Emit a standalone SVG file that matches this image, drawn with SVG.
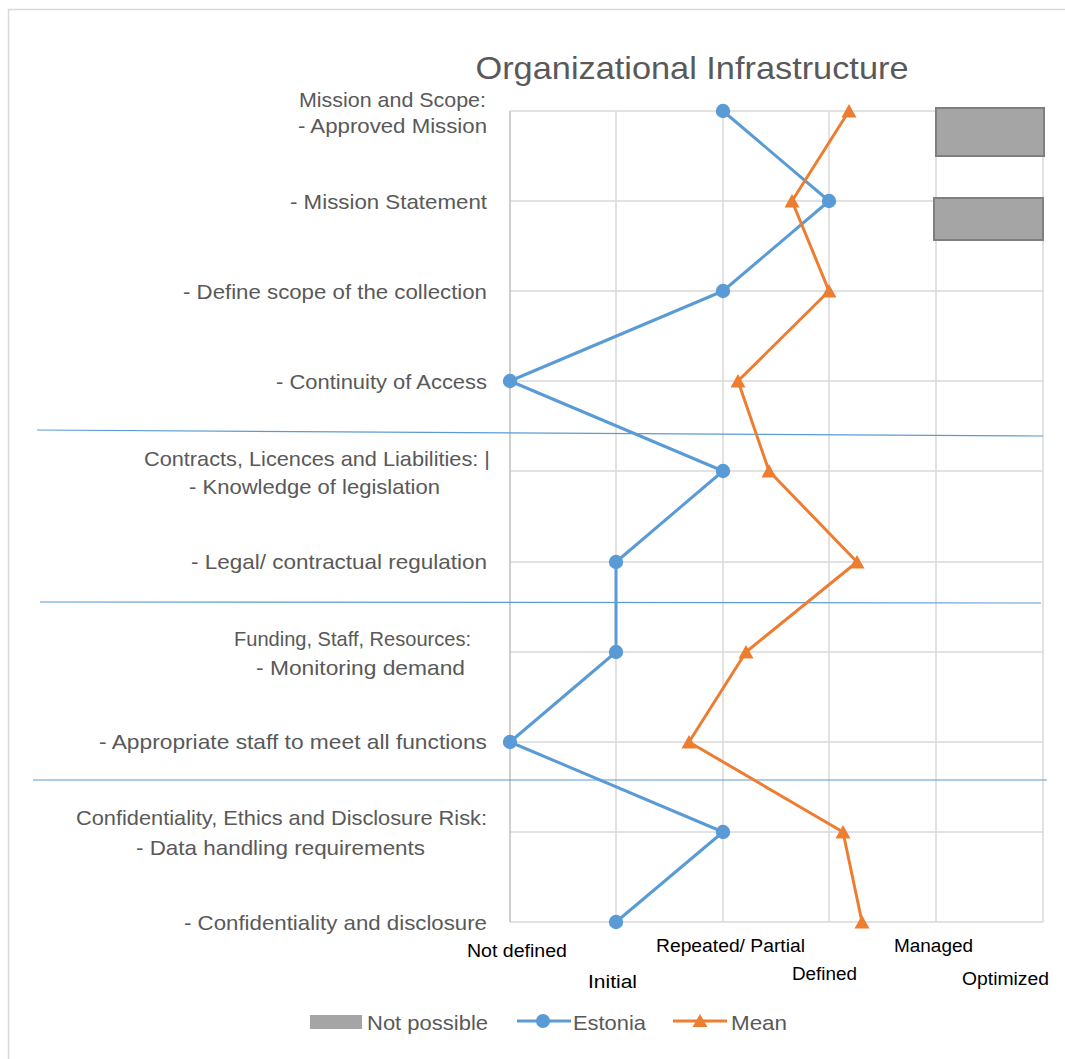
<svg xmlns="http://www.w3.org/2000/svg" width="1065" height="1059" viewBox="0 0 1065 1059">
<style>
.cat{font-family:"Liberation Sans",Arial,sans-serif;font-size:21px;fill:#595959}
.ax{font-family:"Liberation Sans",Arial,sans-serif;font-size:18px;fill:#000}
.lg{font-family:"Liberation Sans",Arial,sans-serif;font-size:21px;fill:#595959}
.grid{stroke:#d9d9d9;stroke-width:1.5;fill:none}
.sep{stroke:#5b9bd5;stroke-width:1.2;fill:none}
.np{fill:#a5a5a5;stroke:#7f7f7f;stroke-width:2}
.est{stroke:#5b9bd5;stroke-width:3;fill:none;stroke-linejoin:round}
.mean{stroke:#ed7d31;stroke-width:3;fill:none;stroke-linejoin:round}
</style>
<defs>
<marker id="dot" markerWidth="16" markerHeight="16" refX="8" refY="8" markerUnits="userSpaceOnUse"><circle cx="8" cy="8" r="7.2" fill="#5b9bd5"/></marker>
<marker id="tri" markerWidth="18" markerHeight="18" refX="9" refY="9" markerUnits="userSpaceOnUse"><polygon points="9,2 16.5,15.5 1.5,15.5" fill="#ed7d31"/></marker>
</defs>
<rect x="0" y="0" width="1065" height="1059" fill="#fff"/>
<path d="M8.5 1059 V9.5 H1065" stroke="#d9d9d9" stroke-width="1.5" fill="none"/>
<text x="692" y="79" text-anchor="middle" font-family="Liberation Sans,Arial,sans-serif" font-size="32" fill="#595959" textLength="433" lengthAdjust="spacingAndGlyphs">Organizational Infrastructure</text>
<g id="grid">
<path class="grid" d="M616 111V922M723 111V922M829 111V922M936 111V922M1043 111V922"/>
<path class="grid" d="M510 111H1043M510 201H1043M510 291H1043M510 381H1043M510 471H1043M510 562H1043M510 652H1043M510 742H1043M510 832H1043M510 922H1043"/>
<path d="M510 111V922" stroke="#bfbfbf" stroke-width="1.5"/>
</g>
<g id="not-possible">
<rect class="np" x="936" y="108" width="108" height="48"/>
<rect class="np" x="934" y="198" width="109" height="42"/>
</g>
<g id="separators">
<path class="sep" d="M37 430 L1043 436"/>
<path class="sep" d="M40 602 L1041 603"/>
<path class="sep" d="M33 780 L1047 780"/>
</g>
<g id="categories">
<text class="cat" x="299" y="107" textLength="187" lengthAdjust="spacingAndGlyphs">Mission and Scope:</text>
<text class="cat" x="298" y="133" textLength="189" lengthAdjust="spacingAndGlyphs">- Approved Mission</text>
<text class="cat" x="290" y="209" textLength="197" lengthAdjust="spacingAndGlyphs">- Mission Statement</text>
<text class="cat" x="183" y="299" textLength="304" lengthAdjust="spacingAndGlyphs">- Define scope of the collection</text>
<text class="cat" x="276" y="389" textLength="211" lengthAdjust="spacingAndGlyphs">- Continuity of Access</text>
<text class="cat" x="144" y="466" textLength="346" lengthAdjust="spacingAndGlyphs">Contracts, Licences and Liabilities: |</text>
<text class="cat" x="189" y="494" textLength="251" lengthAdjust="spacingAndGlyphs">- Knowledge of legislation</text>
<text class="cat" x="191" y="569" textLength="296" lengthAdjust="spacingAndGlyphs">- Legal/ contractual regulation</text>
<text class="cat" x="234" y="646" textLength="237" lengthAdjust="spacingAndGlyphs">Funding, Staff, Resources:</text>
<text class="cat" x="256" y="675" textLength="209" lengthAdjust="spacingAndGlyphs">- Monitoring demand</text>
<text class="cat" x="99" y="749" textLength="388" lengthAdjust="spacingAndGlyphs">- Appropriate staff to meet all functions</text>
<text class="cat" x="76" y="825" textLength="411" lengthAdjust="spacingAndGlyphs">Confidentiality, Ethics and Disclosure Risk:</text>
<text class="cat" x="136" y="855" textLength="289" lengthAdjust="spacingAndGlyphs">- Data handling requirements</text>
<text class="cat" x="184" y="930" textLength="303" lengthAdjust="spacingAndGlyphs">- Confidentiality and disclosure</text>
</g>
<g id="levels">
<text class="ax" x="467" y="957" textLength="100" lengthAdjust="spacingAndGlyphs">Not defined</text>
<text class="ax" x="588" y="988" textLength="49" lengthAdjust="spacingAndGlyphs">Initial</text>
<text class="ax" x="656" y="952" textLength="149" lengthAdjust="spacingAndGlyphs">Repeated/ Partial</text>
<text class="ax" x="792" y="980" textLength="65" lengthAdjust="spacingAndGlyphs">Defined</text>
<text class="ax" x="894" y="952" textLength="79" lengthAdjust="spacingAndGlyphs">Managed</text>
<text class="ax" x="962" y="985" textLength="87" lengthAdjust="spacingAndGlyphs">Optimized</text>
</g>
<g id="connectors">
<polyline id="estonia" class="est" marker-start="url(#dot)" marker-mid="url(#dot)" marker-end="url(#dot)" points="723,111 829,201 723,291 510,381 723,471 616,562 616,652 510,742 723,832 616,922"/>
<polyline id="mean" class="mean" marker-start="url(#tri)" marker-mid="url(#tri)" marker-end="url(#tri)" points="849,111 792,201 829,291 738,381 769,471 857,562 746,652 689,742 843,832 862,922"/>
</g>
<g id="legend">
<rect x="310" y="1015" width="52" height="14" fill="#a5a5a5"/>
<text class="lg" x="367" y="1030" textLength="121" lengthAdjust="spacingAndGlyphs">Not possible</text>
<line x1="517" y1="1021" x2="571" y2="1021" stroke="#5b9bd5" stroke-width="3"/>
<circle cx="543" cy="1021" r="7" fill="#5b9bd5"/>
<text class="lg" x="573" y="1030" textLength="73" lengthAdjust="spacingAndGlyphs">Estonia</text>
<line x1="673" y1="1021" x2="727" y2="1021" stroke="#ed7d31" stroke-width="3"/>
<polygon points="700,1014 707.5,1027 692.5,1027" fill="#ed7d31"/>
<text class="lg" x="731" y="1030" textLength="56" lengthAdjust="spacingAndGlyphs">Mean</text>
</g>
</svg>
